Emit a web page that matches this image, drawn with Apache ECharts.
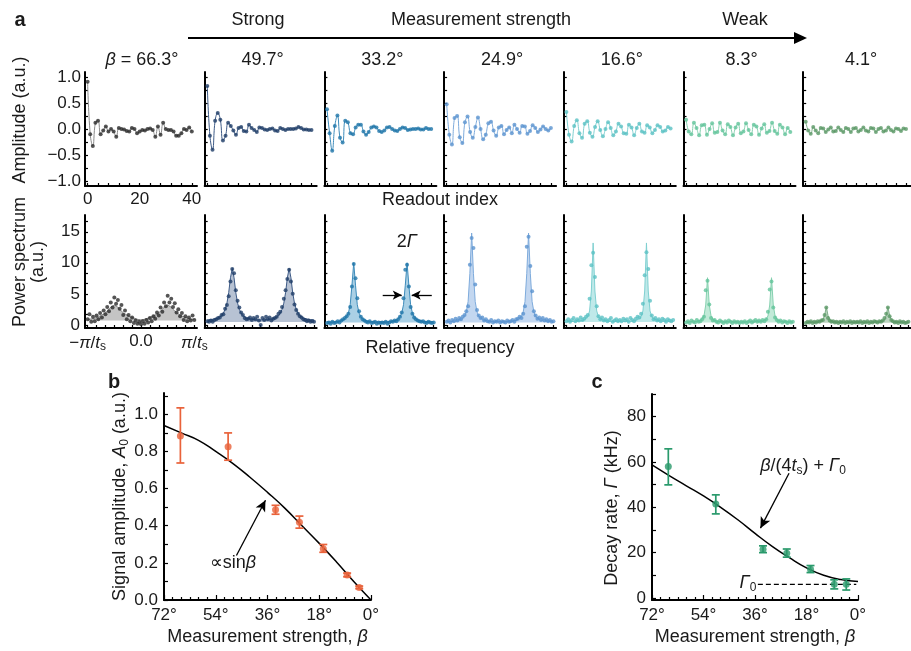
<!DOCTYPE html>
<html><head><meta charset="utf-8">
<script src="https://cdn.jsdelivr.net/npm/echarts@6/dist/echarts.min.js"></script>
<style>html,body{margin:0;padding:0;background:#fff}#c{width:911px;height:651px}</style>
</head><body><div id="c"></div>
<script>
const FONT = '"Liberation Sans", Arial, Helvetica, sans-serif';

// ---------- panel a: labels & colours ----------
const betaLabels = ['66.3', '49.7', '33.2', '24.9', '16.6', '8.3', '4.1'];
const panelColors = ['#2a2a2a', '#1f3d68', '#1f76a9', '#5b93cf', '#5bc2c4', '#63c49b', '#5b9867'];
const lineColors  = ['#8a8a8a', '#3d5a86', '#3e8cbb', '#7eabdc', '#7fd0d1', '#86d1b0', '#7fae88'];
const areaColors  = ['#c4c4c4', '#b7c2d3', '#aad0e5', '#c3d7f0', '#bfe9e9', '#c2ead8', '#bdd5c1'];
const fitBaselines = [0.7, 0.45, 0.4, 0.4, 0.45, 0.4, 0.35];

// readout index (x of the top row)
const readoutIndex = [0,1,2,3,4,5,6,7,8,9,10,11,12,13,14,15,16,17,18,19,20,21,22,23,24,25,26,27,28,29,30,31,32,33,34,35,36,37,38,39,40];
const readoutTicks = [0,4,8,12,16,20,24,28,32,36,40];
const readoutTickLabels = [0, 20, 40];
const ampTicks = [-1,-0.75,-0.5,-0.25,0,0.25,0.5,0.75,1];
const ampTickLabels = [-1, -0.5, 0, 0.5, 1];

// amplitude traces, one per beta
const amp1 = [0.91,-0.10,-0.33,0.12,0.16,-0.10,-0.03,0.05,-0.05,0.00, -0.05,-0.15,0.02,0.00,-0.01,-0.04,-0.05,0.02,0.00,-0.08, -0.05,-0.02,-0.03,0.00,0.01,-0.02,-0.15,0.05,-0.11,0.12, 0.00,-0.02,-0.02,-0.05,-0.13,-0.13,-0.08,0.00,-0.02,0.03, -0.05];
const amp2 = [0.83,-0.13,-0.40,0.16,0.31,0.18,-0.22,-0.13,0.12,0.06, -0.03,-0.11,0.02,0.04,-0.04,-0.05,0.08,0.02,-0.02,-0.06, 0.03,0.02,-0.01,-0.02,0.00,0.01,-0.03,-0.04,0.02,0.00, -0.02,0.00,0.00,0.00,0.01,0.04,0.02,-0.01,-0.01,-0.02, -0.02];
const amp3 = [0.38,-0.08,-0.42,0.06,0.26,-0.17,-0.26,0.16,0.13,-0.08, -0.10,0.03,0.08,0.08,-0.05,-0.11,-0.06,0.03,0.05,0.03, -0.04,-0.06,-0.03,0.03,0.04,0.00,-0.03,-0.04,0.00,0.03, 0.02,-0.02,-0.01,0.00,0.00,0.01,-0.01,-0.01,0.02,0.00, 0.00];
const amp4 = [0.48,-0.11,-0.30,0.21,0.25,-0.16,-0.27,0.13,0.24,-0.06, -0.17,0.04,0.22,0.00,-0.20,-0.11,0.11,0.14,-0.03,-0.13, 0.03,0.06,-0.10,-0.02,0.03,-0.08,0.08,0.00,-0.07,0.06, 0.05,-0.09,-0.04,0.07,0.02,-0.06,-0.01,0.05,0.00,-0.03, 0.02];
const amp5 = [0.33,-0.11,-0.24,0.06,0.17,-0.08,-0.17,0.10,0.15,-0.07, -0.15,0.04,0.15,-0.02,-0.14,0.00,0.13,0.02,-0.12,-0.05, 0.10,0.05,-0.08,-0.09,0.08,0.03,-0.12,0.02,0.10,-0.05, -0.07,0.07,0.03,-0.08,-0.02,0.07,0.04,-0.05,-0.03,0.04, 0.01];
const amp6 = [0.18,-0.05,-0.10,0.12,0.02,-0.12,0.07,0.08,-0.11,0.00, 0.11,-0.07,-0.06,0.12,-0.03,-0.10,0.09,0.04,-0.12,0.03, 0.10,-0.08,-0.05,0.11,-0.02,-0.10,0.08,0.05,-0.11,0.01, 0.09,-0.07,-0.04,0.12,-0.04,-0.09,0.08,0.03,-0.10,0.02, -0.06];
const amp7 = [0.14,-0.03,-0.09,0.04,-0.03,-0.08,0.02,0.01,-0.06,-0.01, 0.03,-0.05,-0.04,0.03,-0.02,-0.06,0.02,0.00,-0.06,0.01, 0.02,-0.05,-0.02,0.03,-0.03,-0.05,0.02,0.01,-0.06,0.00, 0.02,-0.05,-0.03,0.03,-0.02,-0.05,0.01,0.00,-0.04,0.01, 0.00];

// relative frequency in units of pi/30 (so +-30 is +-pi/ts)
const freqIndex = [-30,-29,-28,-27,-26,-25,-24,-23,-22,-21,-20,-19,-18,-17,-16,-15,-14,-13,-12,-11,-10,-9,-8,-7,-6,-5,-4,-3,-2,-1,0,1,2,3,4,5,6,7,8,9,10,11,12,13,14,15,16,17,18,19,20,21,22,23,24,25,26,27,28,29,30];
const freqTicks = [-30,-25,-20,-15,-10,-5,0,5,10,15,20,25,30];
const freqTickLabels = [-30, 0, 30];
const powerTicks = [0,1.667,3.333,5,6.667,8.333,10,11.667,13.333,15,16.667];
const powerTickLabels = [0, 5, 10, 15];

// power spectra (points) and fitted curves
const spec1 = [0.9,1.7,0.5,1.3,0.6,1.5,0.9,1.9,1.2,2.3, 1.7,2.9,2.2,3.6,2.8,4.4,3.4,4.0,2.6,3.2, 1.6,2.3,0.9,1.6,0.6,1.2,0.3,0.7,0.2,0.5, 0.1, 0.6,0.2,0.8,0.4,1.1,0.6,1.4,1.0,2.0,1.5, 2.8,2.1,3.6,3.0,4.7,3.6,4.2,2.9,3.5,2.0, 2.5,1.4,1.9,0.8,1.4,0.6,1.2,0.7,1.5,0.8];
const fit1  = [0.9,0.9,0.95,1.0,1.1,1.2,1.3,1.45,1.6,1.75, 1.95,2.2,2.5,2.85,3.1,3.2,3.1,2.85,2.5,2.2, 1.95,1.75,1.6,1.45,1.3,1.2,1.1,1.0,0.9,0.85, 0.8, 0.85,0.9,1.0,1.1,1.2,1.3,1.45,1.6,1.75,1.95, 2.2,2.5,2.85,3.1,3.2,3.1,2.85,2.5,2.2,1.95, 1.75,1.6,1.45,1.3,1.2,1.1,1.0,0.95,0.9,0.9];
const spec2 = [0.6,0.5,0.7,0.5,0.8,0.9,1.1,1.2,1.6,1.7, 2.6,3.2,4.6,7.0,9.0,8.3,5.6,3.9,2.8,2.0, 1.6,1.1,0.9,1.0,1.2,0.8,1.1,0.9,1.3,0.7, 0.0, 1.1,0.8,1.3,0.9,1.2,0.7,1.0,1.1,1.3,1.8, 2.1,2.9,4.2,5.6,7.4,8.9,7.0,5.0,3.3,2.4, 1.8,1.4,1.2,0.9,0.8,0.6,0.7,0.5,0.6,0.5];
const fit2  = [0.8,0.85,0.85,0.9,0.95,1.0,1.1,1.3,1.5,1.9, 2.5,3.5,5.2,7.6,9.1,7.6,5.2,3.5,2.5,1.9, 1.5,1.3,1.1,1.0,0.95,0.9,0.85,0.85,0.8,0.8, 0.8, 0.8,0.8,0.85,0.85,0.9,0.95,1.0,1.1,1.3,1.5, 1.9,2.5,3.5,5.2,7.6,9.1,7.6,5.2,3.5,2.5, 1.9,1.5,1.3,1.1,1.0,0.95,0.9,0.85,0.85,0.8];
const spec3 = [0.3,0.4,0.2,0.5,0.3,0.4,0.6,0.4,0.7,0.9, 1.1,1.4,1.8,2.9,6.2,9.8,7.5,4.3,2.2,1.3, 0.9,0.7,0.5,0.4,0.6,0.3,0.4,0.5,0.2,0.4, 0.3, 0.4,0.3,0.5,0.2,0.4,0.6,0.5,0.7,0.6,0.9, 1.3,2.0,4.3,8.9,9.7,6.2,2.9,1.8,1.2,0.9, 0.7,0.6,0.5,0.6,0.4,0.3,0.5,0.4,0.3,0.4];
const fit3  = [0.5,0.5,0.5,0.5,0.5,0.55,0.55,0.6,0.7,0.8, 1.0,1.3,1.9,3.25,6.4,10.0,6.4,3.25,1.9,1.3, 1.0,0.8,0.7,0.6,0.55,0.55,0.5,0.5,0.5,0.5, 0.5, 0.5,0.5,0.5,0.5,0.55,0.55,0.6,0.7,0.8,1.0, 1.3,1.9,3.25,6.4,10.0,6.4,3.25,1.9,1.3,1.0, 0.8,0.7,0.6,0.55,0.55,0.5,0.5,0.5,0.5,0.5];
const spec4 = [0.5,0.7,0.4,0.8,0.6,1.0,0.7,1.1,0.9,1.3, 1.6,2.2,3.0,9.7,14.0,12.4,6.5,2.4,1.5,1.1, 1.2,0.7,0.9,0.6,0.5,0.8,0.4,0.6,0.5,0.7, 0.4, 0.6,0.5,0.4,0.7,0.5,0.6,0.8,0.5,0.9,1.0, 1.3,1.1,1.8,3.0,12.6,14.2,9.5,5.4,2.2,1.5, 1.0,1.2,0.8,1.1,0.7,0.9,0.6,0.8,0.5,0.6];
const fit4  = [0.5,0.5,0.53,0.55,0.58,0.62,0.67,0.75,0.87,1.06, 1.4,2.1,3.75,8.3,14.8,8.3,3.75,2.1,1.4,1.06, 0.87,0.75,0.67,0.62,0.58,0.55,0.53,0.52,0.52,0.52, 0.52, 0.52,0.52,0.52,0.53,0.55,0.58,0.62,0.67,0.75,0.87, 1.06,1.4,2.1,3.75,8.3,14.8,8.3,3.75,2.1,1.4, 1.06,0.87,0.75,0.67,0.62,0.58,0.55,0.53,0.5,0.5];
const spec5 = [0.6,0.9,0.5,0.8,1.1,0.6,0.9,0.7,1.2,0.8, 1.0,1.3,1.6,4.2,9.6,11.6,7.7,3.0,1.4,0.9, 1.2,0.7,0.9,0.6,0.8,1.1,0.5,0.7,0.9,0.6, 0.8, 0.6,1.0,0.7,0.9,0.5,1.1,0.8,0.6,1.0,1.3, 1.2,1.8,3.4,8.0,11.7,9.0,3.9,1.5,0.9,1.1, 0.7,0.9,0.6,1.0,0.8,0.5,0.9,0.7,0.6,0.8];
const fit5  = [0.55,0.55,0.55,0.55,0.56,0.58,0.6,0.62,0.66,0.72, 0.82,0.99,1.34,2.25,5.46,13.2,5.46,2.25,1.34,0.99, 0.82,0.72,0.66,0.62,0.6,0.58,0.56,0.55,0.55,0.55, 0.55, 0.55,0.55,0.55,0.56,0.58,0.6,0.62,0.66,0.72,0.82, 0.99,1.34,2.25,5.46,13.2,5.46,2.25,1.34,0.99,0.82, 0.72,0.66,0.62,0.6,0.58,0.56,0.55,0.55,0.55,0.55];
const spec6 = [0.4,0.6,0.3,0.7,0.5,0.4,0.8,0.5,0.6,0.9, 1.3,5.6,7.1,3.3,1.1,0.7,0.8,0.5,0.4,0.7, 0.5,0.3,0.6,0.4,0.7,0.5,0.3,0.6,0.4,0.5, 0.3, 0.5,0.4,0.6,0.3,0.5,0.7,0.4,0.6,0.8,0.5, 0.7,0.5,0.8,0.6,0.9,2.1,5.7,7.0,2.8,1.2, 0.8,0.5,0.7,0.4,0.6,0.5,0.3,0.6,0.4,0.5];
const fit6  = [0.5,0.5,0.5,0.51,0.52,0.54,0.57,0.62,0.72,0.93, 1.44,3.2,7.6,3.2,1.44,0.93,0.72,0.62,0.57,0.54, 0.52,0.51,0.5,0.5,0.5,0.5,0.5,0.5,0.5,0.5, 0.5, 0.5,0.5,0.5,0.5,0.5,0.5,0.5,0.5,0.51,0.52, 0.54,0.57,0.62,0.72,0.93,1.44,3.2,7.6,3.2,1.44, 0.93,0.72,0.62,0.57,0.54,0.52,0.51,0.5,0.5,0.5];
const spec7 = [0.3,0.5,0.4,0.6,0.3,0.5,0.4,0.6,0.5,0.7, 0.8,1.6,2.8,1.1,0.7,0.5,0.6,0.4,0.5,0.3, 0.5,0.4,0.6,0.3,0.5,0.4,0.6,0.3,0.5,0.4, 0.5, 0.4,0.6,0.3,0.5,0.4,0.6,0.3,0.5,0.4,0.6, 0.5,0.4,0.6,0.5,0.7,1.1,1.8,2.8,1.4,0.8, 0.6,0.4,0.5,0.3,0.6,0.4,0.5,0.3,0.4,0.5];
const fit7  = [0.42,0.42,0.42,0.43,0.43,0.44,0.45,0.48,0.52,0.61, 0.82,1.52,2.9,1.52,0.82,0.61,0.52,0.48,0.45,0.44, 0.43,0.43,0.42,0.42,0.42,0.42,0.42,0.42,0.42,0.42, 0.42, 0.42,0.42,0.42,0.42,0.42,0.42,0.42,0.42,0.43,0.43, 0.44,0.45,0.48,0.52,0.61,0.82,1.52,2.9,1.52,0.82, 0.61,0.52,0.48,0.45,0.44,0.43,0.43,0.42,0.42,0.42];

// ---------- panel b ----------
const betaMeasured = [66.3, 49.7, 33.2, 24.9, 16.6, 8.3, 4.1];
const signalAmp  = [0.884, 0.825, 0.486, 0.419, 0.276, 0.135, 0.068];
const signalLow  = [0.738, 0.753, 0.462, 0.387, 0.257, 0.125, 0.061];
const signalHigh = [1.035, 0.900, 0.510, 0.452, 0.299, 0.145, 0.075];
const curveBeta  = [72, 66, 60, 54, 48, 42, 36, 30, 24, 18, 12, 6, 0];
const sinCurve   = [0.94, 0.90, 0.86, 0.80, 0.735, 0.66, 0.58, 0.495, 0.40, 0.305, 0.205, 0.10, 0.0];
const degreeTicks = [0, 18, 36, 54, 72];
const ampBTicks = [0,0.1,0.2,0.3,0.4,0.5,0.6,0.7,0.8,0.9,1.0,1.1];
const ampBTickLabels = [0, 0.2, 0.4, 0.6, 0.8, 1.0];

// ---------- panel c ----------
const decayRate = [58.0, 41.5, 21.5, 19.7, 12.7, 6.0, 6.0];
const decayLow  = [49.9, 37.1, 20.0, 18.0, 11.2, 4.0, 3.5];
const decayHigh = [65.8, 45.5, 23.0, 21.6, 14.3, 8.0, 8.4];
const decayCurve = [58.7, 54.0, 49.5, 45.0, 40.0, 34.5, 28.5, 22.8, 17.8, 13.3, 10.0, 8.1, 7.3];
const gamma0Beta = [35, 0.6];
const gamma0Value = [6.0, 6.0];
const rateTicks = [0,10,20,30,40,50,60,70,80,90];
const rateTickLabels = [0, 20, 40, 60, 80];

// ================= build =================
const amps = [amp1, amp2, amp3, amp4, amp5, amp6, amp7];
const specs = [spec1, spec2, spec3, spec4, spec5, spec6, spec7];
const fits = [fit1, fit2, fit3, fit4, fit5, fit6, fit7];

const chart = echarts.init(document.getElementById('c'));
const grids = [], xAxes = [], yAxes = [], series = [];
const L0 = 85, STEP = 119.7, W = 112;
const axLine = {show: true, onZero: false, lineStyle: {color: '#000', width: 2}};
const tickLS = {color: '#000', width: 1.2};
const lab = {color: '#1a1a1a', fontSize: 17, fontFamily: FONT};
const minus = v => String(v).replace('-', '\u2212');
const rich = {
  i: {fontStyle: 'italic', fontSize: 17, fontFamily: FONT, color: '#1a1a1a'},
  s: {fontSize: 12, fontFamily: FONT, color: '#1a1a1a', padding: [8, 0, 0, 0]}
};

for (let i = 0; i < 7; i++) grids.push({left: L0 + STEP * i, top: 72, width: W, height: 114});
for (let i = 0; i < 7; i++) grids.push({left: L0 + STEP * i, top: 215, width: W, height: 113});
grids.push({left: 164, top: 393, width: 207, height: 207});
grids.push({left: 652, top: 394, width: 206, height: 206});

for (let i = 0; i < 7; i++) {
  xAxes.push({type: 'value', gridIndex: i, min: -1, max: 42, axisLine: axLine, splitLine: {show: false},
    axisTick: {show: true, inside: true, length: 3, customValues: readoutTicks, lineStyle: tickLS},
    axisLabel: Object.assign({show: i === 0, customValues: readoutTickLabels, margin: 5}, lab)});
  yAxes.push({type: 'value', gridIndex: i, min: -1.1, max: 1.1, axisLine: axLine, splitLine: {show: false},
    axisTick: {show: true, inside: true, length: 3, customValues: ampTicks, lineStyle: tickLS},
    axisLabel: Object.assign({show: i === 0, customValues: ampTickLabels, margin: 4,
      formatter: v => minus(v.toFixed(1))}, lab)});
  series.push({type: 'line', xAxisIndex: i, yAxisIndex: i, smooth: 0.45, showSymbol: false, silent: true,
    lineStyle: {color: lineColors[i], width: 1}, z: 2,
    data: readoutIndex.map((x, j) => [x, amps[i][j]])});
  series.push({type: 'scatter', xAxisIndex: i, yAxisIndex: i, symbolSize: 4, silent: true,
    itemStyle: {color: panelColors[i]}, z: 3,
    data: readoutIndex.map((x, j) => [x, amps[i][j]])});
}
for (let i = 0; i < 7; i++) {
  const g = 7 + i;
  xAxes.push({type: 'value', gridIndex: g, min: -31.5, max: 31.5, axisLine: axLine, splitLine: {show: false},
    axisTick: {show: true, inside: true, length: 3, customValues: freqTicks, lineStyle: tickLS},
    axisLabel: Object.assign({show: i === 0, customValues: freqTickLabels, margin: 5, rich: rich,
      formatter: v => v === 0 ? '0.0' : (v < 0 ? '\u2212' : '') + '{i|\u03c0}/{i|t}{s|s}'}, lab)});
  yAxes.push({type: 'value', gridIndex: g, min: -0.5, max: 17.7, axisLine: axLine, splitLine: {show: false},
    axisTick: {show: true, inside: true, length: 3, customValues: powerTicks, lineStyle: tickLS},
    axisLabel: Object.assign({show: i === 0, customValues: powerTickLabels, margin: 5}, lab)});
  const s = {type: 'line', xAxisIndex: g, yAxisIndex: g, showSymbol: false, silent: true, z: 2,
    lineStyle: {color: lineColors[i], width: 1},
    areaStyle: {color: areaColors[i], opacity: 1, origin: fitBaselines[i]},
    data: freqIndex.map((k, j) => [k, fits[i][j]])};
  if (i === 2) {
    s.markLine = {silent: true, symbol: ['none', 'arrow'], symbolSize: [7, 9], label: {show: false},
      lineStyle: {color: '#000', width: 1.3, type: 'solid'},
      data: [[{coord: [1.3, 4.8]}, {coord: [12.0, 4.8]}], [{coord: [28.9, 4.8]}, {coord: [17.6, 4.8]}]]};
  }
  series.push(s);
  series.push({type: 'scatter', xAxisIndex: g, yAxisIndex: g, symbolSize: 4, silent: true, z: 3,
    itemStyle: {color: panelColors[i]}, data: freqIndex.map((k, j) => [k, specs[i][j]])});
}

function bigX(g) {
  return {type: 'value', gridIndex: g, min: 0, max: 72, interval: 18, inverse: true,
    axisLine: axLine, splitLine: {show: false},
    axisTick: {show: true, inside: true, length: 5, lineStyle: tickLS},
    minorTick: {show: true, splitNumber: 6, length: 3, lineStyle: tickLS},
    axisLabel: Object.assign({margin: 7, formatter: v => v + '\u00b0'}, lab),
    name: 'Measurement strength, {i|\u03b2}', nameLocation: 'middle', nameGap: 28,
    nameTextStyle: {fontSize: 18, fontFamily: FONT, color: '#1a1a1a',
      rich: {i: {fontStyle: 'italic', fontSize: 18, fontFamily: FONT, color: '#1a1a1a'}}}};
}
xAxes.push(bigX(14));
xAxes.push(bigX(15));
yAxes.push({type: 'value', gridIndex: 14, min: 0, max: 1.115, axisLine: axLine, splitLine: {show: false},
  axisTick: {show: true, inside: true, length: 4, customValues: ampBTicks, lineStyle: tickLS},
  axisLabel: Object.assign({customValues: ampBTickLabels, margin: 6, formatter: v => v.toFixed(1)}, lab),
  name: 'Signal amplitude, {i|A}{s|0} (a.u.)', nameLocation: 'middle', nameGap: 33, nameRotate: 90,
  nameTextStyle: {fontSize: 18, fontFamily: FONT, color: '#1a1a1a',
    rich: {i: {fontStyle: 'italic', fontSize: 18, fontFamily: FONT, color: '#1a1a1a'},
           s: {fontSize: 12, fontFamily: FONT, color: '#1a1a1a', padding: [9, 0, 0, 0]}}}});
yAxes.push({type: 'value', gridIndex: 15, min: -0.9, max: 90, axisLine: axLine, splitLine: {show: false},
  axisTick: {show: true, inside: true, length: 4, customValues: rateTicks, lineStyle: tickLS},
  axisLabel: Object.assign({customValues: rateTickLabels, margin: 6}, lab)});

function errSeries(g, color, lows, highs) {
  return {type: 'custom', xAxisIndex: g, yAxisIndex: g, silent: true, z: 3,
    data: betaMeasured.map((b, j) => [b, lows[j], highs[j]]),
    encode: {x: 0, y: [1, 2]},
    renderItem: (params, api) => {
      const x = api.value(0);
      const p1 = api.coord([x, api.value(2)]), p2 = api.coord([x, api.value(1)]);
      const w = 4, st = {stroke: color, lineWidth: 1.7};
      return {type: 'group', children: [
        {type: 'line', shape: {x1: p1[0], y1: p1[1], x2: p2[0], y2: p2[1]}, style: st},
        {type: 'line', shape: {x1: p1[0] - w, y1: p1[1], x2: p1[0] + w, y2: p1[1]}, style: st},
        {type: 'line', shape: {x1: p2[0] - w, y1: p2[1], x2: p2[0] + w, y2: p2[1]}, style: st}]};
    }};
}
const orange = '#e9623a', green = '#2a9a6c';
series.push({type: 'line', xAxisIndex: 14, yAxisIndex: 14, smooth: true, showSymbol: false, silent: true, z: 2,
  lineStyle: {color: '#000', width: 1.5}, data: curveBeta.map((b, j) => [b, sinCurve[j]]),
  markLine: {silent: true, symbol: ['none', 'arrow'], symbolSize: [8, 11], label: {show: false},
    lineStyle: {color: '#000', width: 1.3, type: 'solid'},
    data: [[{coord: [46.8, 0.24]}, {coord: [36.7, 0.537]}]]}});
series.push(errSeries(14, orange, signalLow, signalHigh));
series.push({type: 'scatter', xAxisIndex: 14, yAxisIndex: 14, symbolSize: 7, silent: true, z: 4,
  itemStyle: {color: orange}, data: betaMeasured.map((b, j) => [b, signalAmp[j]])});

series.push({type: 'line', xAxisIndex: 15, yAxisIndex: 15, smooth: true, showSymbol: false, silent: true, z: 2,
  lineStyle: {color: '#000', width: 1.5}, data: curveBeta.map((b, j) => [b, decayCurve[j]]),
  markLine: {silent: true, symbol: ['none', 'arrow'], symbolSize: [8, 11], label: {show: false},
    lineStyle: {color: '#000', width: 1.3, type: 'solid'},
    data: [[{coord: [24.1, 55]}, {coord: [34.1, 30.8]}]]}});
series.push({type: 'line', xAxisIndex: 15, yAxisIndex: 15, showSymbol: false, silent: true, z: 2,
  lineStyle: {color: '#000', width: 1.2, type: [5, 3]}, data: gamma0Beta.map((b, j) => [b, gamma0Value[j]])});
series.push(errSeries(15, green, decayLow, decayHigh));
series.push({type: 'scatter', xAxisIndex: 15, yAxisIndex: 15, symbolSize: 7, silent: true, z: 4,
  itemStyle: {color: green}, data: betaMeasured.map((b, j) => [b, decayRate[j]])});

// ---------- free text ----------
const grich = {
  i: {fontStyle: 'italic', fontSize: 18, fontFamily: FONT, fill: '#1a1a1a', color: '#1a1a1a'},
  s: {fontSize: 12, fontFamily: FONT, fill: '#1a1a1a', color: '#1a1a1a', padding: [9, 0, 0, 0]}
};
function txt(x, y, text, o) {
  o = o || {};
  const size = o.size || 18;
  return {type: 'text', x: x, y: y, rotation: o.rot || 0, silent: true, z: 100,
    style: {text: text, fill: '#1a1a1a', font: (o.bold ? 'bold ' : '') + size + 'px ' + FONT,
      align: o.align || 'center', verticalAlign: 'middle', textAlign: o.align || 'center', textVerticalAlign: 'middle',
      rich: grich}};
}
const graphics = [
  txt(20, 20, 'a', {bold: true, size: 20}),
  txt(114, 382, 'b', {bold: true, size: 20}),
  txt(597, 382, 'c', {bold: true, size: 20}),
  txt(258, 20, 'Strong'),
  txt(481, 20, 'Measurement strength'),
  txt(745, 20, 'Weak'),
  {type: 'line', silent: true, shape: {x1: 188, y1: 38, x2: 797, y2: 38}, style: {stroke: '#000', lineWidth: 2}},
  {type: 'polygon', silent: true, shape: {points: [[794, 32], [807, 38], [794, 44]]}, style: {fill: '#000'}},
  txt(20, 120, 'Amplitude (a.u.)', {rot: Math.PI / 2}),
  txt(20, 262, 'Power spectrum', {rot: Math.PI / 2}),
  txt(38, 262, '(a.u.)', {rot: Math.PI / 2}),
  txt(440, 200, 'Readout index'),
  txt(440, 348, 'Relative frequency'),
  txt(407, 242, '2{i|\u0393}'),
  txt(233, 563, '\u221dsin{i|\u03b2}'),
  txt(803, 466, '{i|\u03b2}/(4{i|t}{s|s}) + {i|\u0393}{s|0}'),
  txt(748, 583, '{i|\u0393}{s|0}'),
  txt(612, 508, 'Decay rate, {i|\u0393} (kHz)', {rot: Math.PI / 2})
];
betaLabels.forEach((b, i) => {
  const cx = L0 + STEP * i + 58;
  graphics.push(txt(i === 0 ? 142 : cx, 60, (i === 0 ? '{i|\u03b2} = ' : '') + b + '\u00b0'));
});

chart.setOption({
  animation: false,
  backgroundColor: '#fff',
  textStyle: {fontFamily: FONT},
  grid: grids, xAxis: xAxes, yAxis: yAxes, series: series,
  graphic: graphics
});
</script></body></html>
